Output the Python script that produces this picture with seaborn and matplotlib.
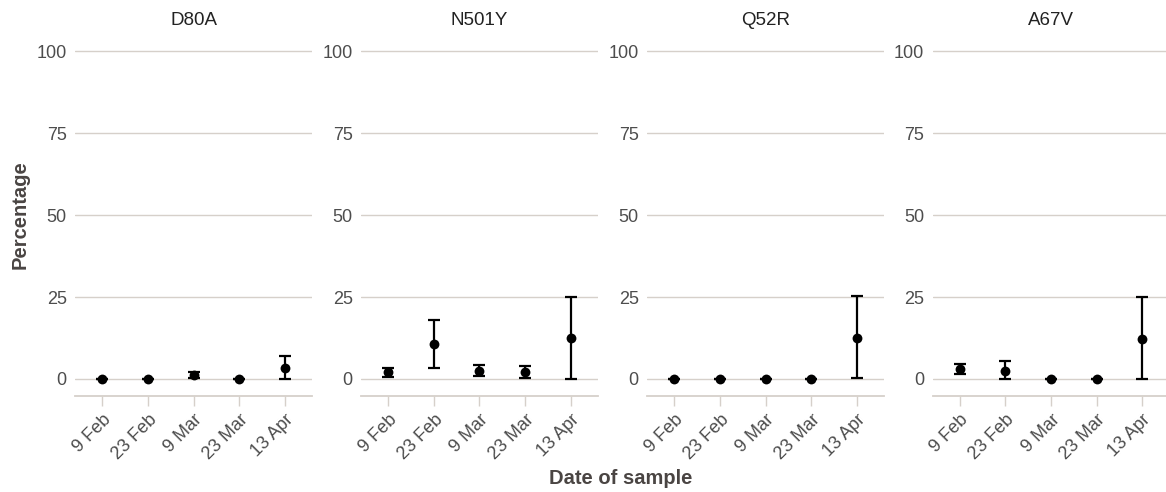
import numpy as np
import pandas as pd
import matplotlib
matplotlib.use("Agg")
import matplotlib.pyplot as plt
import seaborn as sns

dates = ["9 Feb", "23 Feb", "9 Mar", "23 Mar", "13 Apr"]
mutations = ["D80A", "N501Y", "Q52R", "A67V"]

d80a_val = [0.0, 0.0, 1.2, 0.0, 3.5]
d80a_lo = [0.0, 0.0, 0.4, 0.0, 0.0]
d80a_hi = [0.0, 0.0, 2.0, 0.0, 7.0]

n501y_val = [2.0, 10.8, 2.5, 2.0, 12.5]
n501y_lo = [0.6, 3.5, 1.0, 0.2, 0.0]
n501y_hi = [3.5, 18.0, 4.2, 4.0, 25.0]

q52r_val = [0.0, 0.0, 0.0, 0.0, 12.5]
q52r_lo = [0.0, 0.0, 0.0, 0.0, 0.3]
q52r_hi = [0.0, 0.0, 0.0, 0.0, 25.2]

a67v_val = [3.0, 2.5, 0.0, 0.0, 12.3]
a67v_lo = [1.5, 0.0, 0.0, 0.0, 0.0]
a67v_hi = [4.5, 5.5, 0.0, 0.0, 25.0]

series = {
    "D80A": (d80a_val, d80a_lo, d80a_hi),
    "N501Y": (n501y_val, n501y_lo, n501y_hi),
    "Q52R": (q52r_val, q52r_lo, q52r_hi),
    "A67V": (a67v_val, a67v_lo, a67v_hi),
}

rows = []
for m in mutations:
    v, lo, hi = series[m]
    for i, d in enumerate(dates):
        rows.append({"mutation": m, "date": d, "pos": i, "value": v[i], "lo": lo[i], "hi": hi[i]})
df = pd.DataFrame(rows)

sns.set_theme(style="white")
plt.rcParams["font.family"] = ["Liberation Sans", "DejaVu Sans"]

GRID = "#d6d0ca"
TXT = "#4d4d4d"

g = sns.FacetGrid(df, col="mutation", col_order=mutations, sharey=False, sharex=False,
                  height=4.92, aspect=11.66 / 4.92 / 4, despine=False)


def draw(data, **kw):
    ax = plt.gca()
    ax.errorbar(data["pos"], data["value"],
                yerr=[data["value"] - data["lo"], data["hi"] - data["value"]],
                fmt="none", ecolor="black", elinewidth=1.6, capsize=4.5, capthick=1.6, zorder=3)
    sns.scatterplot(data=data, x="pos", y="value", ax=ax, color="black", s=50,
                    edgecolor="black", linewidth=0, zorder=4, legend=False)


g.map_dataframe(draw)

fig = g.figure
fig.set_size_inches(11.66, 4.92)
W, H = 1166.0, 492.0
lefts = [75, 361, 647, 932.5]
width = 237.0
bottom_px, top_px = 396.0, 35.0

for ax, m, lp in zip(g.axes.flat, mutations, lefts):
    ax.set_position([lp / W, (H - bottom_px) / H, width / W, (bottom_px - top_px) / H])
    ax.set_xlim(-0.6, 4.6)
    ax.set_ylim(-5.2, 105)
    ax.set_yticks([0, 25, 50, 75, 100])
    ax.set_xticks(range(len(dates)))
    ax.set_xticklabels(dates, rotation=45, ha="right", rotation_mode="anchor")
    ax.yaxis.grid(True, color=GRID, linewidth=1)
    ax.xaxis.grid(False)
    ax.set_axisbelow(True)
    for s in ["top", "right", "left"]:
        ax.spines[s].set_visible(False)
    ax.spines["bottom"].set_color(GRID)
    ax.spines["bottom"].set_linewidth(1.3)
    ax.tick_params(axis="x", length=7, width=1, color=GRID, labelsize=13, labelcolor=TXT, pad=4, bottom=True)
    ax.tick_params(axis="y", length=0, labelsize=13, labelcolor=TXT, pad=6)
    ax.set_title(m, fontsize=13.5, color="#222222", pad=7)
    ax.set_xlabel("")
    ax.set_ylabel("")

fig.text(621 / W, (H - 478) / H, "Date of sample", fontsize=14.5, fontweight="bold", color="#4a4543",
         ha="center", va="center")
fig.text(20 / W, (H - 215) / H, "Percentage", fontsize=14.5, fontweight="bold", color="#4a4543",
         rotation=90, ha="center", va="center")

fig.savefig("out.png", dpi=100)
